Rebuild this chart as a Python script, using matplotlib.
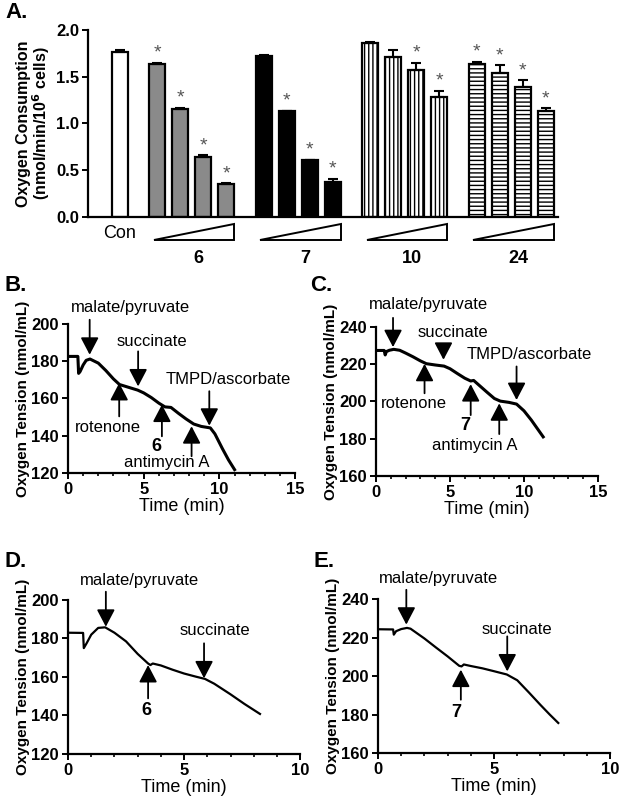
import matplotlib.pyplot as plt
from matplotlib.patches import Polygon
from matplotlib.ticker import MultipleLocator
from matplotlib.transforms import blended_transform_factory

plt.rcParams['font.family'] = ['Liberation Sans', 'DejaVu Sans']
plt.rcParams['hatch.linewidth'] = 1.0

# ---- panel A: oxygen consumption ----
con_value = 1.76
con_err = 0.03
group_names = ['6', '7', '10', '24']
group_values = [[1.63, 1.15, 0.64, 0.35],
                [1.72, 1.13, 0.61, 0.38],
                [1.86, 1.71, 1.57, 1.28],
                [1.63, 1.54, 1.39, 1.13]]
group_errs = [[0.02, 0.02, 0.02, 0.01],
              [0.01, 0.005, 0.005, 0.03],
              [0.01, 0.08, 0.08, 0.07],
              [0.03, 0.08, 0.07, 0.03]]
group_stars = [[1, 1, 1, 1],
               [0, 1, 1, 1],
               [0, 0, 1, 1],
               [1, 1, 1, 1]]

# ---- traces (time in min, O2 in nmol/mL) ----
b_time = [0, 0.65, 0.7, 0.8, 1.0, 1.2, 1.45, 2.0, 2.5, 3.0, 3.4, 4.0, 4.6, 5.0, 5.5,
          6.0, 6.4, 6.8, 7.3, 7.8, 8.3, 8.8, 9.4, 9.7, 10.2, 10.6, 11.0]
b_o2 = [182.6, 182.6, 173.5, 174.5, 178, 180.5, 181.2, 179, 175, 170.5, 167.5, 166, 164.5,
        163, 160.5, 157.5, 155.5, 155.2, 152, 149, 146.3, 145, 144.2, 141, 133, 127, 121.8]

c_time = [0, 0.55, 0.62, 0.7, 0.9, 1.2, 1.6, 2.0, 2.5, 3.0, 3.4, 4.0, 4.6, 5.0, 5.5, 6.0,
          6.4, 6.6, 7.0, 7.5, 8.0, 8.4, 9.0, 9.5, 10.0, 10.5, 11.3]
c_o2 = [227.4, 227.4, 225, 226.8, 227.5, 228, 227.5, 226, 224, 221.8, 220.3, 219.6, 219.0,
        217.6, 215, 212.5, 211.0, 211.3, 208.5, 205, 201.6, 200.2, 199.5, 198.6, 195, 190, 181]

d_time = [0, 0.65, 0.68, 0.8, 1.0, 1.3, 1.6, 2.0, 2.5, 3.0, 3.45, 3.55, 3.65, 4.0, 4.5,
          5.0, 5.5, 5.9, 6.3, 7.0, 7.6, 8.27]
d_o2 = [183, 182.9, 175, 177.5, 182, 185.5, 185.8, 183, 178.5, 172, 167, 166.2, 167, 166,
        163.8, 161.8, 160.2, 159, 156.5, 151, 146, 140.8]

e_time = [0, 0.65, 0.68, 0.78, 1.0, 1.25, 1.4, 2.0, 2.5, 3.0, 3.5, 3.6, 3.7, 4.0, 4.5,
          5.0, 5.55, 6.0, 6.5, 7.0, 7.4, 7.77]
e_o2 = [224.3, 224.2, 221.5, 223.3, 224.4, 225, 224.6, 219.5, 214.8, 210.2, 205.3, 205,
        206, 205.2, 204, 202.5, 200.8, 197.8, 191.5, 185, 180, 175.6]

# arrows: label, time, tip value, tail value, label x, label y
b_labels = ['malate/pyruvate', 'succinate', 'rotenone', '6', 'antimycin A', 'TMPD/ascorbate']
b_at = [1.43, 4.63, 3.38, 6.2, 8.16, 9.33]
b_tip = [183.5, 166.5, 168.3, 156.7, 145.1, 145.4]
b_tail = [202.3, 185.3, 150.4, 139.7, 129, 163.9]
b_tx = [4.13, 5.52, 2.65, 5.85, 6.51, 10.6]
b_ty = [208.6, 190.7, 144.5, 134.3, 125.8, 170.1]

c_labels = ['malate/pyruvate', 'succinate', 'rotenone', '7', 'antimycin A', 'TMPD/ascorbate']
c_at = [1.15, 4.56, 3.28, 6.4, 8.33, 9.5]
c_tip = [229.2, 222.4, 220.2, 209.3, 199, 200.8]
c_tail = [244.9, 230.5, 204.4, 192.7, 182.5, 218.8]
c_tx = [3.55, 5.19, 2.54, 6.02, 6.69, 10.35]
c_ty = [252, 236.8, 199, 187.3, 176.5, 225.1]

d_labels = ['malate/pyruvate', '6', 'succinate']
d_at = [1.63, 3.45, 5.86]
d_tip = [186.1, 166.2, 159.3]
d_tail = [204.3, 148.9, 177.5]
d_tx = [3.09, 3.38, 6.33]
d_ty = [210, 142.5, 183.9]

e_labels = ['malate/pyruvate', '7', 'succinate']
e_at = [1.22, 3.57, 5.57]
e_tip = [226.7, 203.3, 202.4]
e_tail = [244.8, 187.7, 220.6]
e_tx = [2.59, 3.38, 5.97]
e_ty = [250.9, 181.1, 224.1]

fig = plt.figure(figsize=(6.24, 8.07), dpi=100)


def style_axes(ax):
    for s in ['top', 'right']:
        ax.spines[s].set_visible(False)
    for s in ['left', 'bottom']:
        ax.spines[s].set_linewidth(1.6)
    ax.tick_params(width=1.4, length=4, labelsize=12, direction='out', pad=2.5)
    for lab in ax.get_xticklabels() + ax.get_yticklabels():
        lab.set_fontweight('bold')


# ---------------- A ----------------
axA = fig.add_axes([0.141, 0.731, 0.753, 0.232])
bar_w = 0.7
gap = 1.63
fills = ['#8a8a8a', 'black', 'white', 'white']
hatches = [None, None, '||||', '----']

axA.bar(0, con_value, width=bar_w, color='white', edgecolor='black', linewidth=1.6,
        yerr=[[0], [con_err]], capsize=3.5, error_kw=dict(elinewidth=1.5, capthick=1.5))

trans = blended_transform_factory(axA.transData, axA.transAxes)
for g in range(4):
    start = gap + g * (3 + gap)
    xs = [start + i for i in range(4)]
    axA.bar(xs, group_values[g], width=bar_w, color=fills[g], edgecolor='black',
            linewidth=1.6, hatch=hatches[g],
            yerr=[[0] * 4, group_errs[g]], capsize=3.5,
            error_kw=dict(elinewidth=1.5, capthick=1.5))
    for x, v, e, s in zip(xs, group_values[g], group_errs[g], group_stars[g]):
        if s:
            axA.text(x, v + e + 0.01, '*', ha='center', va='bottom', fontsize=14,
                     color='#555555')
    x0 = xs[0] - bar_w / 2 + 0.2
    x1 = xs[-1] + bar_w / 2
    tri = Polygon([[x0, -0.123], [x1, -0.123], [x1, -0.037]], closed=True,
                  facecolor='white', edgecolor='black', linewidth=1.4,
                  transform=trans, clip_on=False)
    axA.add_patch(tri)
    axA.text((x0 + x1) / 2 + 0.2, -0.22, group_names[g], transform=trans, ha='center',
             va='center', fontsize=13, fontweight='bold')

axA.text(0, -0.09, 'Con', transform=trans, ha='center', va='center', fontsize=13)
axA.set_xlim(-1.39, 19.04)
axA.set_ylim(0, 2.0)
axA.set_yticks([0, 0.5, 1.0, 1.5, 2.0])
axA.set_xticks([])
axA.set_ylabel('Oxygen Consumption\n(nmol/min/10$^\\mathbf{6}$ cells)', fontsize=11.5,
               fontweight='bold', labelpad=3, linespacing=0.95)
axA.yaxis.set_major_formatter(plt.FormatStrFormatter('%.1f'))
style_axes(axA)


# ---------------- traces ----------------
def trace_panel(rect, t, o2, ylim, yticks, xmax, lw, labels, at, tip, tail, tx, ty):
    ax = fig.add_axes(rect)
    ax.plot(t, o2, color='black', linewidth=lw, solid_joinstyle='round')
    ax.set_xlim(0, xmax)
    ax.set_ylim(*ylim)
    ax.set_yticks(yticks)
    ax.set_xticks(range(0, xmax + 1, 5))
    ax.xaxis.set_minor_locator(MultipleLocator(1))
    ax.tick_params(axis='x', which='minor', length=2.5, width=1.2)
    ax.set_xlabel('Time (min)', fontsize=13, labelpad=1)
    ax.set_ylabel('Oxygen Tension (nmol/mL)', fontsize=11, fontweight='bold', labelpad=1)
    style_axes(ax)
    for lab, x, a, b, px, py in zip(labels, at, tip, tail, tx, ty):
        ax.annotate('', xy=(x, a), xytext=(x, b), annotation_clip=False,
                    arrowprops=dict(arrowstyle='-|>,head_length=1.05,head_width=0.55',
                                    color='black', lw=1.3, shrinkA=0, shrinkB=0,
                                    mutation_scale=10))
        bold = lab.isdigit()
        ax.text(px, py, lab, ha='center', va='center', fontsize=13 if bold else 12,
                fontweight='bold' if bold else 'normal', clip_on=False)
    return ax


trace_panel([0.109, 0.4139, 0.364, 0.1846], b_time, b_o2, (120, 200),
            [120, 140, 160, 180, 200], 15, 2.2,
            b_labels, b_at, b_tip, b_tail, b_tx, b_ty)
trace_panel([0.6026, 0.4102, 0.3556, 0.1846], c_time, c_o2, (160, 240),
            [160, 180, 200, 220, 240], 15, 2.2,
            c_labels, c_at, c_tip, c_tail, c_tx, c_ty)
trace_panel([0.109, 0.0657, 0.372, 0.1908], d_time, d_o2, (120, 200),
            [120, 140, 160, 180, 200], 10, 1.6,
            d_labels, d_at, d_tip, d_tail, d_tx, d_ty)
trace_panel([0.6058, 0.0669, 0.3718, 0.1908], e_time, e_o2, (160, 240),
            [160, 180, 200, 220, 240], 10, 1.6,
            e_labels, e_at, e_tip, e_tail, e_tx, e_ty)

# panel letters
for txt, x, y in [('A.', 0.008, 0.985), ('B.', 0.008, 0.646), ('C.', 0.497, 0.646),
                  ('D.', 0.008, 0.304), ('E.', 0.502, 0.304)]:
    fig.text(x, y, txt, fontsize=16, fontweight='bold', va='center', ha='left')

fig.savefig('out.png', dpi=100)
